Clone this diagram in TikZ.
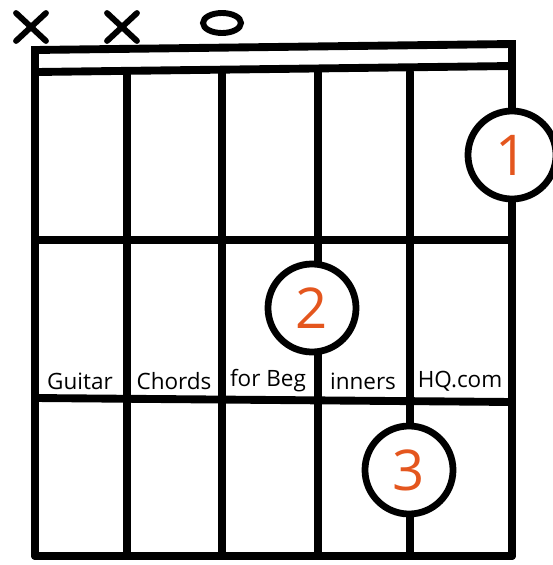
\documentclass[tikz,border=0pt]{standalone}
\usepackage{fontspec}
\setmainfont{Open Sans}
\usetikzlibrary{shapes.misc,shapes.geometric}
\definecolor{naranja}{HTML}{E4561E}

\begin{document}
\begin{tikzpicture}[
    x=0.025cm, y=-0.025cm,
    linea/.style={line width=5.6pt, line cap=round},
    dedo/.style={
      circle, draw, line width=4.8pt, fill=white, inner sep=0pt,
      minimum size=2.2cm, text=naranja, font=\fontsize{40}{40}\selectfont
    },
    mudo/.style={cross out, draw, line width=4.2pt, line cap=round,
      minimum width=0.6cm, minimum height=0.55cm},
    marca/.style={font=\fontsize{16}{16}\selectfont}
  ]
    \useasboundingbox (0,0) rectangle (552,565);
    % cejuela
    \draw[linea] (35,98) -- (35,50) -- (512,44) -- (512,96);
    \draw[linea] (37,72) -- (512,66);
    % cuerdas
    \foreach \x in {35,127,222,318,410,512}
      \draw[linea] (\x,72) -- (\x,556);
    % trastes
    \draw[linea] (35,240) -- (512,240);
    \draw[linea] (35,398) -- (512,402);
    \draw[linea] (35,556) -- (512,556);
    % marcas
    \node[mudo] (mudo1) at (31,27) {};
    \node[mudo] (mudo2) at (122,27) {};
    \node[ellipse, draw, line width=4.2pt, minimum width=0.95cm, minimum height=0.5cm,
      inner sep=0pt] (alaire) at (222,23) {};
    % dedos
    \node[dedo] (dedo1) at (512,155) {1};
    \node[dedo] (dedo2) at (312,308) {2};
    \node[dedo] (dedo3) at (409,470) {3};
    % texto
    \node[marca] (t1) at (80,381) {Guitar};
    \node[marca] (t2) at (174,381) {Chords};
    \node[marca] (t3) at (268,381) {for Beg};
    \node[marca] (t4) at (363,381) {inners};
    \node[marca] (t5) at (460,381) {HQ.com};
  \end{tikzpicture}
\end{document}
